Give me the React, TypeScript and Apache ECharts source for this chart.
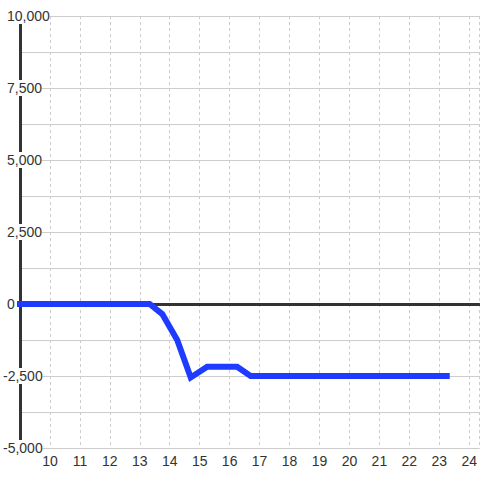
import React, { useEffect, useRef } from "react";
import * as echarts from "echarts";

const xValues = [9, 13.33, 13.75, 14.25, 14.7, 15.25, 16.25, 16.7, 23.25];
const yValues = [0, 0, -350, -1250, -2550, -2180, -2180, -2500, -2500];
const yMin = -5000;
const yMax = 10000;
const xMin = 9;
const xMax = 24.333;

export default function App() {
  const ref = useRef<HTMLDivElement>(null);
  useEffect(() => {
    const chart = echarts.init(ref.current!, null, { renderer: "svg" });
    const fmtY = (v: number) => {
      if (Math.round(v) % 2500 !== 0) return "";
      const s = Math.abs(v).toLocaleString("en-US");
      return v < 0 ? "{n|-" + s + "}" : "{p|" + s + "}";
    };
    const font = { fontFamily: "Liberation Sans, Arial, sans-serif", fontSize: 14, color: "#333" };
    chart.setOption({
      animation: false,
      backgroundColor: "#fff",
      grid: { left: 20, right: 0, top: 16, bottom: 32 },
      xAxis: [
        {
          type: "value",
          min: xMin,
          max: xMax,
          interval: 1,
          axisLine: { show: true, lineStyle: { color: "#ccc", width: 1 }, onZero: false },
          axisTick: { show: false },
          axisLabel: {
            ...font,
            margin: 6,
            showMaxLabel: false,
            formatter: (v: number) => (Number.isInteger(v) && v > xMin ? String(v) : ""),
          },
          splitLine: { show: true, lineStyle: { color: "#ccc", type: [3, 3], width: 1 } },
        },
        {
          type: "value",
          min: xMin,
          max: xMax,
          position: "bottom",
          axisLine: { show: true, onZero: true, lineStyle: { color: "#333", width: 3 } },
          axisTick: { show: false },
          axisLabel: { show: false },
          splitLine: { show: false },
        },
      ],
      yAxis: [
        {
          type: "value",
          min: yMin,
          max: yMax,
          interval: 1250,
          axisLine: { show: true, lineStyle: { color: "#333", width: 3 } },
          axisTick: { show: false },
          axisLabel: { show: false },
          splitLine: { show: true, lineStyle: { color: "#ccc", width: 1 } },
        },
        {
          type: "value",
          min: yMin,
          max: yMax,
          interval: 1250,
          position: "left",
          z: 10,
          axisLine: { show: false },
          axisTick: { show: false },
          splitLine: { show: false },
          axisLabel: {
            ...font,
            align: "left",
            margin: 17,
            formatter: fmtY,
            backgroundColor: "#fff",
            padding: [1, 0, 1, 0],
            rich: {
              n: { ...font },
              p: { ...font, padding: [0, 0, 0, 4] },
            },
          },
        },
      ],
      series: [
        {
          type: "line",
          xAxisIndex: 0,
          yAxisIndex: 0,
          data: xValues.map((x, i) => [x, yValues[i]]),
          showSymbol: false,
          symbol: "none",
          clip: false,
          z: 5,
          lineStyle: { color: "#1f3bff", width: 6, cap: "square", join: "miter" },
        },
      ],
    });
    return () => chart.dispose();
  }, []);
  return <div ref={ref} style={{ width: 480, height: 480, position: "absolute", left: 0, top: 0 }} />;
}
